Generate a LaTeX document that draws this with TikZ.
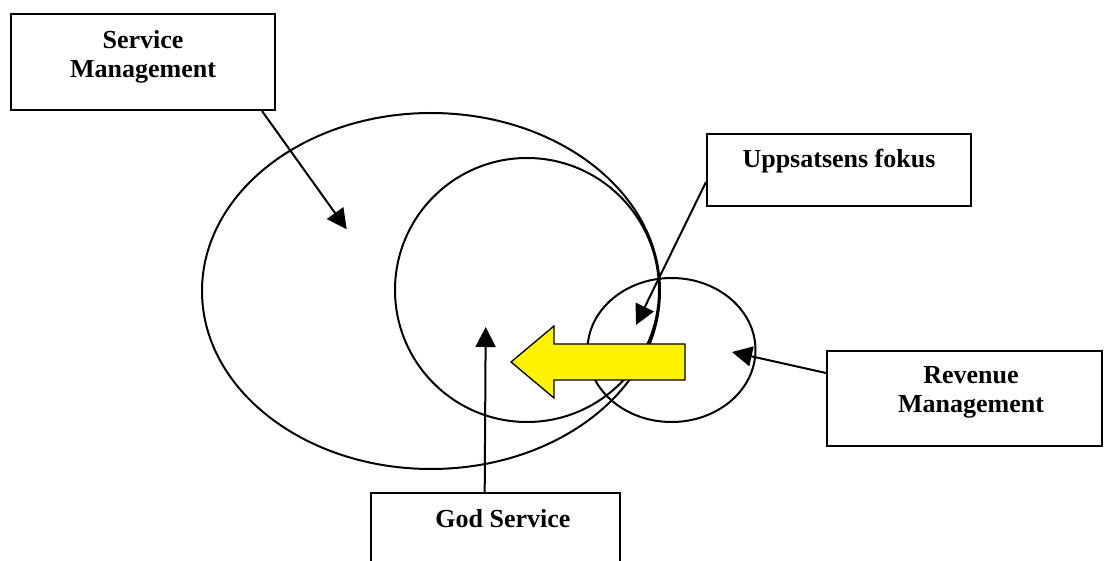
\documentclass[tikz,border=0pt]{standalone}
\usepackage{fontspec}
\setmainfont{Liberation Serif}
\usetikzlibrary{arrows.meta,calc}
\begin{document}
\begin{tikzpicture}[x=1pt,y=-1pt,
  box/.style={draw=black, line width=2pt, rectangle, inner sep=0pt},
  lbl/.style={font=\fontsize{26pt}{29pt}\selectfont\bfseries, align=center, inner sep=0pt},
  ring/.style={draw=black, line width=2pt},
  arr/.style={draw=black, line width=2pt, -{Triangle[length=20pt,width=20pt]}},
  bigarrow/.style={draw=black, line width=1.3pt, fill=yellow}]
\useasboundingbox (0,0) rectangle (1104,561);
\clip (0,0) rectangle (1104,561);
% ellipses
\draw[ring] (431,291) ellipse [x radius=229pt, y radius=178pt];
\draw[ring] (527,290) ellipse [x radius=132pt, y radius=132pt];
\draw[ring] (671.5,350) ellipse [x radius=84pt, y radius=72pt];
% yellow arrow
\draw[bigarrow] (511,362) -- (554,326) -- (554,344) -- (685,344) -- (685,380) -- (554,380) -- (554,398) -- cycle;
% boxes
\node[box, minimum width=264pt, minimum height=96pt] (sm) at (143,62) {};
\node[box, minimum width=264pt, minimum height=72pt] (uf) at (839,170) {};
\node[box, minimum width=275pt, minimum height=95pt] (rm) at (964.5,398.5) {};
\node[box, minimum width=249pt, minimum height=107pt] (gs) at (495.5,546.5) {};
% labels (base = baseline of last line)
\node[lbl, anchor=base] (smlbl) at (143,78) {Service\\Management};
\node[lbl, anchor=base] (uflbl) at (839,168) {Uppsatsens fokus};
\node[lbl, anchor=base] (rmlbl) at (971,413) {Revenue\\Management};
\node[lbl, anchor=base] (gslbl) at (503,527) {God Service};
% arrow targets
\coordinate (smtip) at (346.7,229.3);
\coordinate (uftip) at (636,325);
\coordinate (rmtip) at (732,352);
\coordinate (gstip) at (485.7,327);
% connectors
\draw[arr] ($(sm.south east)+(-14,0)$) -- (smtip);
\draw[arr] ($(uf.west)+(0,12)$) -- (uftip);
\draw[arr] ($(rm.west)+(0,-25.5)$) -- (rmtip);
\draw[arr] ($(gs.north west)+(114.7,0)$) -- (gstip);
\end{tikzpicture}
\end{document}
